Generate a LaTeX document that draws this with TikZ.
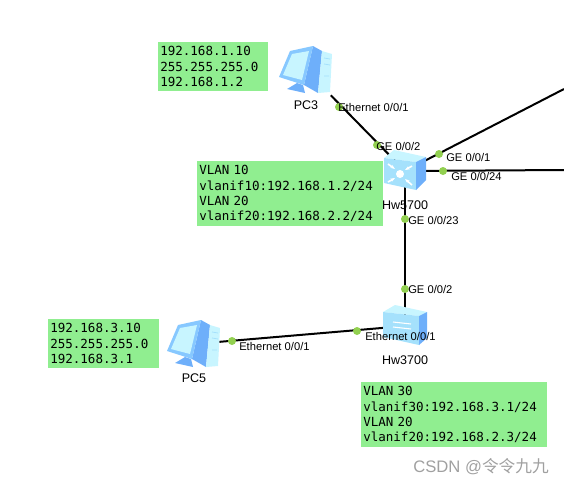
\documentclass[tikz,border=0pt]{standalone}
\usepackage{fontspec}
\setmainfont{Liberation Sans}
\newfontfamily\ipfont{DejaVu Sans Mono}
\newfontfamily\cjkfont{Noto Sans CJK SC}
\usepackage{tikz}
\usetikzlibrary{arrows.meta, positioning}
\definecolor{vert}{RGB}{144,238,144}
\definecolor{pastille}{RGB}{146,208,80}
\definecolor{ciel}{RGB}{200,245,255}
\definecolor{cielmoyen}{RGB}{165,225,252}
\definecolor{cadre}{RGB}{135,200,255}
\definecolor{azur}{RGB}{110,175,250}
\definecolor{gris}{RGB}{160,160,160}
\tikzset{
  ipbox/.style={fill=vert, anchor=north west, inner xsep=1.5pt, inner ysep=3pt, align=left,
    font=\ipfont\fontsize{9.4}{11.6}\selectfont},
  device/.style={minimum width=37.5pt, minimum height=37.5pt, inner sep=0pt},
  portdot/.style={circle, fill=pastille, inner sep=0pt, minimum size=6pt},
  portlabel/.style={anchor=west, inner sep=0pt, font=\fontsize{8.4}{10}\selectfont},
  devlabel/.style={inner sep=0pt, font=\fontsize{9.4}{11}\selectfont},
  link/.style={black, line width=1.5pt},
  pics/pcicon/.style={code={
    \fill[azur] (7,-24) -- (16,-19) -- (12,23) -- (-2,15) -- cycle;
    \fill[ciel] (16,-19) -- (26,-16) -- (24,22) -- (12,23) -- cycle;
    \draw[cielmoyen, line width=.6pt] (18,-12) -- (24,-11) (18,-6) -- (24,-5) (18,6) -- (23,6);
    \fill[cadre] (-16,-19) -- (7,-24) -- (-2,15) -- (-27,7) -- cycle;
    \fill[ciel] (-14,-16) -- (3,-19) -- (-4,10) -- (-23,5) -- cycle;
    \fill[azur] (-9,13) -- (-3,15) -- (-1,23) -- (-19,19) -- cycle;
  }},
  pics/coreicon/.style={code={
    \fill[ciel] (-21,-13) -- (-11,-21) -- (21,-14) -- (11,-9) -- cycle;
    \fill[cielmoyen] (-21,-13) -- (11,-9) -- (11,19) -- (-21,12) -- cycle;
    \fill[azur] (11,-9) -- (21,-14) -- (21,9) -- (11,19) -- cycle;
    \fill[white] (-5,3) circle (4);
    \draw[white, line width=1.2pt, -{Stealth[length=3.5pt]}] (-17,-7) -- (-10,-2);
    \draw[white, line width=1.2pt, -{Stealth[length=3.5pt]}] (7,-5) -- (0,-1);
    \draw[white, line width=1.2pt, -{Stealth[length=3.5pt]}] (-17,11) -- (-10,7);
    \draw[white, line width=1.2pt, -{Stealth[length=3.5pt]}] (7,14) -- (0,8);
  }},
  pics/accessicon/.style={code={
    \fill[ciel] (-22,-14) -- (-10,-21) -- (22,-14) -- (14,-10) -- cycle;
    \fill[cielmoyen] (-22,-14) -- (14,-10) -- (14,19) -- (-22,11) -- cycle;
    \fill[azur] (14,-10) -- (22,-14) -- (22,12) -- (14,19) -- cycle;
    \draw[white, line width=.8pt] (-12,-4) -- (6,-2) (-12,1) -- (6,3);
  }}
}

\begin{document}
\begin{tikzpicture}[x=0.75pt, y=-0.75pt]
  \useasboundingbox (0,0) rectangle (564,486);
  % postes et commutateurs
  \node[device] (pcthree) at (306,70) {};
  \node[device] (hwfive) at (405,171) {};
  \node[device] (hwthree) at (405,326) {};
  \node[device] (pcfive) at (194,344) {};
  \coordinate (haut) at (564,89);
  \coordinate (droite) at (564,170);
  % liaisons
  \draw[link] (pcthree) -- (hwfive.center);
  \draw[link] (hwfive.center) -- (haut);
  \draw[link] (hwfive.center) -- (droite);
  \draw[link] (hwfive.center) -- (hwthree.center);
  \draw[link] (pcfive) -- (hwthree.center);
  \pic at (pcthree) {pcicon};
  \pic at (pcfive) {pcicon};
  \pic at (hwfive) {coreicon};
  \pic at (hwthree) {accessicon};
  % pastilles des ports
  \node[portdot] (dotpcthree) at (339,107) {};
  \node[portdot] (dotfivetwo) at (377,145) {};
  \node[portdot] (dotfiveone) at (439,154) {};
  \node[portdot] (dotfivetf) at (443,171) {};
  \node[portdot] (dotfivetw) at (405,219) {};
  \node[portdot] (dotthreetwo) at (405,289) {};
  \node[portdot] (dotthreeeth) at (357,331) {};
  \node[portdot] (dotpcfive) at (232,341) {};
  \node[portlabel] (lblpcthree) at (338,107) {Ethernet 0/0/1};
  \node[portlabel] (lblfivetwo) at (376,146) {GE 0/0/2};
  \node[portlabel] (lblfiveone) at (446,157) {GE 0/0/1};
  \node[portlabel] (lblfivetf) at (451,176) {GE 0/0/24};
  \node[portlabel] (lblfivetw) at (408,220) {GE 0/0/23};
  \node[portlabel] (lblthreetwo) at (408,289) {GE 0/0/2};
  \node[portlabel] (lblthreeeth) at (365,336) {Ethernet 0/0/1};
  \node[portlabel] (lblpcfive) at (239,346) {Ethernet 0/0/1};
  \node[devlabel] (namepcthree) at (306,105) {PC3};
  \node[devlabel] (namepcfive) at (194,378) {PC5};
  \node[devlabel] (namehwfive) at (405,205) {Hw5700};
  \node[devlabel] (namehwthree) at (405,360) {Hw3700};
  % adresses
  \node[ipbox, text width=79.5pt] (ippcthree) at (158,42) {192.168.1.10\\255.255.255.0\\192.168.1.2};
  \node[ipbox, text width=136.5pt] (iphwfive) at (197,161) {VLAN 10\\vlanif10:192.168.1.2/24\\VLAN 20\\vlanif20:192.168.2.2/24};
  \node[ipbox, text width=80pt] (ippcfive) at (48,319) {192.168.3.10\\255.255.255.0\\192.168.3.1};
  \node[ipbox, text width=136pt] (iphwthree) at (361,382) {VLAN 30\\vlanif30:192.168.3.1/24\\VLAN 20\\vlanif20:192.168.2.3/24};
  \node[anchor=east, inner sep=0pt, text=gris, font=\fontsize{12.5}{14}\selectfont] (marque) at (549,467) {CSDN @{\cjkfont 令令九九}};
\end{tikzpicture}
\end{document}
